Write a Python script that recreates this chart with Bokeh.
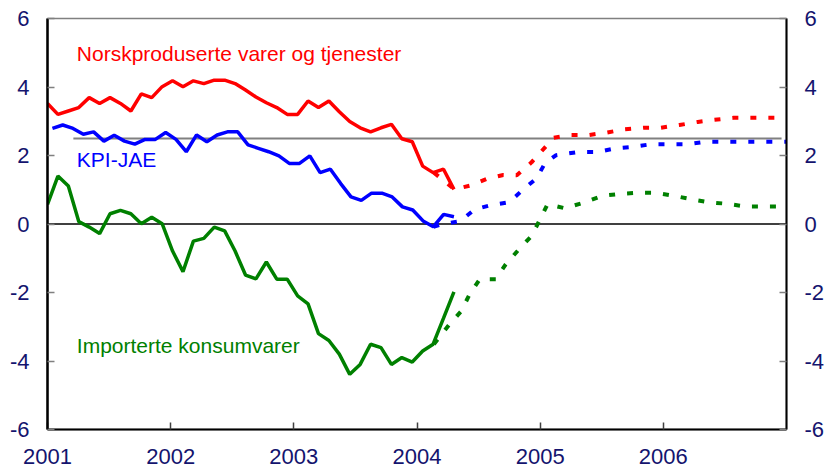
import numpy as np
from bokeh.plotting import figure
from bokeh.models import Range1d, LinearAxis, FixedTicker, Span, ColumnDataSource
from bokeh.core.properties import value
from bokeh.embed import file_html
from bokeh.resources import INLINE

# ---------------- data ----------------
# historical monthly data, Jan 2001 - Apr 2004 (40 months)
n_hist = 40
red_hist_start, red_hist_end = 2001.0, 2004.30
blue_hist_start, blue_hist_end = 2001.04, 2004.30

norsk = [3.52, 3.20, 3.30, 3.40, 3.69, 3.52, 3.69, 3.52, 3.30, 3.80,
         3.69, 4.01, 4.18, 4.01, 4.18, 4.10, 4.20, 4.20, 4.10, 3.91,
         3.71, 3.54, 3.40, 3.20, 3.20, 3.59, 3.40, 3.59, 3.28, 2.99,
         2.81, 2.69, 2.81, 2.91, 2.49, 2.40, 1.69, 1.50, 1.60, 1.01]

kpi_jae = [2.79, 2.89, 2.79, 2.62, 2.69, 2.42, 2.59, 2.42, 2.33, 2.47,
           2.47, 2.67, 2.47, 2.11, 2.60, 2.40, 2.60, 2.69, 2.69, 2.31,
           2.21, 2.11, 1.99, 1.77, 1.77, 1.99, 1.50, 1.60, 1.18, 0.79,
           0.69, 0.90, 0.90, 0.79, 0.50, 0.41, 0.09, -0.08, 0.28, 0.21]

importerte = [0.57, 1.40, 1.11, 0.07, -0.09, -0.28, 0.30, 0.40, 0.30, 0.01,
              0.20, 0.01, -0.79, -1.39, -0.50, -0.42, -0.09, -0.20, -0.79, -1.49,
              -1.60, -1.11, -1.61, -1.61, -2.10, -2.33, -3.20, -3.40, -3.80, -4.39,
              -4.10, -3.51, -3.61, -4.10, -3.90, -4.03, -3.71, -3.51, -2.75, -1.98]

# projections (dashed)
norsk_fc_x = [2004.137, 2004.304, 2004.44, 2004.57, 2004.70, 2004.81, 2004.93, 2005.11,
              2005.25, 2005.40, 2005.54, 2005.68, 2005.84, 2005.98, 2006.13, 2006.28,
              2006.41, 2006.57, 2007.0]
norsk_fc = [1.50, 1.01, 1.13, 1.32, 1.43, 1.42, 1.80, 2.52,
            2.60, 2.60, 2.67, 2.76, 2.81, 2.81, 2.89, 2.98,
            3.04, 3.10, 3.10]

kpi_fc_x = [2004.133, 2004.21, 2004.35, 2004.47, 2004.60, 2004.75, 2004.85, 2004.97,
            2005.04, 2005.13, 2005.31, 2005.46, 2005.61, 2005.75, 2005.90, 2006.20,
            2006.34, 2007.0]
kpi_fc = [-0.08, 0.0, 0.08, 0.43, 0.55, 0.64, 0.97, 1.33,
          1.78, 2.01, 2.10, 2.10, 2.21, 2.25, 2.33, 2.33,
          2.40, 2.40]

imp_fc_x = [2004.137, 2004.264, 2004.36, 2004.43, 2004.51, 2004.64, 2004.72, 2004.82,
            2004.93, 2005.00, 2005.06, 2005.20, 2005.35, 2005.50, 2005.65, 2005.78,
            2005.94, 2006.09, 2006.23, 2006.38, 2006.52, 2006.67, 2007.0]
imp_fc = [-3.51, -2.93, -2.54, -2.03, -1.61, -1.61, -1.18, -0.77,
          -0.35, 0.14, 0.58, 0.46, 0.62, 0.82, 0.88, 0.91,
          0.91, 0.82, 0.72, 0.63, 0.59, 0.51, 0.51]

# inflation target line
target_x = [2001.21, 2006.96]
target_y = [2.5, 2.5]

year_ticks = [2001, 2002, 2003, 2004, 2005, 2006]
y_ticks = [-6, -4, -2, 0, 2, 4, 6]
y_tick_labels = {t: str(t) for t in y_ticks}   # plain hyphen-minus like the reference

label_text = ["Norskproduserte varer og tjenester", "KPI-JAE", "Importerte konsumvarer"]
label_x = [2001.238, 2001.238, 2001.238]
label_y = [4.97, 1.88, -3.55]
label_color = ["#FF0000", "#0000FF", "#008000"]

RED, BLUE, GREEN = "#FF0000", "#0000FF", "#008000"
TICK_COLOR = "#14146e"

red_x = np.linspace(red_hist_start, red_hist_end, n_hist)
green_x = np.linspace(red_hist_start, red_hist_end, n_hist)
blue_x = np.linspace(blue_hist_start, blue_hist_end, n_hist)

# ---------------- figure ----------------
p = figure(width=827, height=474, output_backend="svg", toolbar_location=None,
           x_range=Range1d(2001, 2007), y_range=Range1d(-6, 6),
           min_border_left=47, min_border_right=41, min_border_top=18,
           min_border_bottom=45)
p.xgrid.visible = False
p.ygrid.visible = False
p.outline_line_color = "#808080"
p.outline_line_width = 1.5
p.background_fill_color = "white"
p.border_fill_color = "white"

def style_axis(ax, standoff, line_width):
    ax.axis_line_color = "black"
    ax.axis_line_width = line_width
    ax.major_tick_in = 7
    ax.major_tick_out = 0
    ax.major_tick_line_color = "#808080"
    ax.major_tick_line_width = 1.5
    ax.minor_tick_line_color = None
    ax.major_label_text_font = "Liberation Sans"
    ax.major_label_text_font_size = "22px"
    ax.major_label_text_color = TICK_COLOR
    ax.major_label_standoff = standoff

p.xaxis.ticker = FixedTicker(ticks=year_ticks)
style_axis(p.xaxis[0], 19, 2)
p.xaxis.major_tick_line_color = "#404040"

p.yaxis.ticker = FixedTicker(ticks=y_ticks)
p.yaxis.major_label_overrides = y_tick_labels
style_axis(p.yaxis[0], 18, 2.5)

right_axis = LinearAxis(ticker=FixedTicker(ticks=y_ticks),
                        major_label_overrides=y_tick_labels)
style_axis(right_axis, 18, 2)
p.add_layout(right_axis, "right")

# reference lines
p.add_layout(Span(location=0, dimension="width", line_color="black",
                  line_width=1.5, level="underlay"))
p.line(target_x, target_y, line_color="#808080", line_width=2, level="underlay")

# projections (dashed)
p.line(norsk_fc_x, norsk_fc, line_color=RED, line_width=4, line_dash="6 12")
p.line(kpi_fc_x, kpi_fc, line_color=BLUE, line_width=4, line_dash="6 12")
p.line(imp_fc_x, imp_fc, line_color=GREEN, line_width=4, line_dash="6 12")

# history (solid)
p.line(red_x, norsk, line_color=RED, line_width=3.5)
p.line(blue_x, kpi_jae, line_color=BLUE, line_width=3.5)
p.line(green_x, importerte, line_color=GREEN, line_width=3.5)

src = ColumnDataSource(dict(x=label_x, y=label_y, t=label_text, c=label_color))
p.text(x="x", y="y", text="t", text_color="c", source=src,
       text_font=value("Liberation Sans"), text_font_size=value("21px"),
       text_baseline="middle", text_align="left")

open("out.html", "w").write(file_html(p, INLINE))
